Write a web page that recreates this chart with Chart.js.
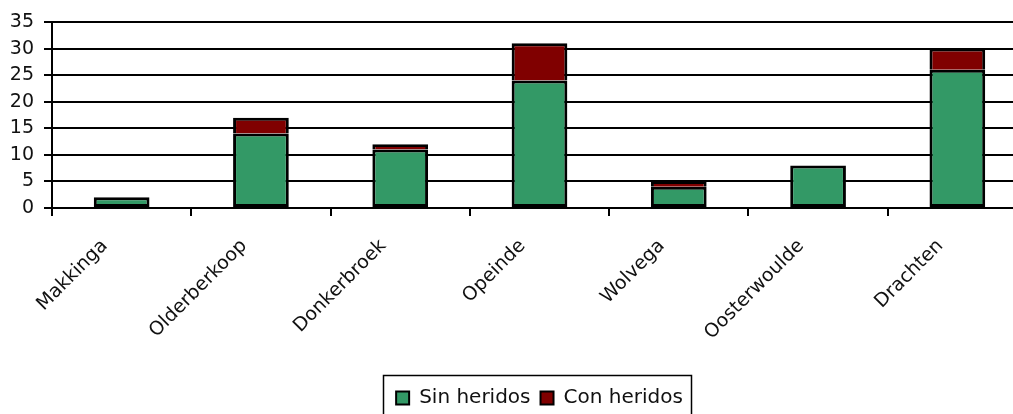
<!DOCTYPE html>
<html>
<head>
<meta charset="utf-8">
<script src="https://cdn.jsdelivr.net/npm/chart.js@4.4.1/dist/chart.umd.min.js"></script>
<style>
  html, body { margin: 0; padding: 0; background: #fff; overflow: hidden; }
  #wrap { width: 1027px; height: 414px; position: relative; }
</style>
</head>
<body>
<div id="wrap"><canvas id="chart"></canvas></div>
<script>
const places = ['Makkinga', 'Olderberkoop', 'Donkerbroek', 'Opeinde', 'Wolvega', 'Oosterwoulde', 'Drachten'];
const sinHeridos = [2, 14, 11, 24, 4, 8, 26];
const conHeridos = [null, 3, 1, 7, 1, null, 4];

const FONT = 'Tahoma, "DejaVu Sans", sans-serif';

// box around the legend, like the spreadsheet original
const legendBorder = {
  id: 'legendBorder',
  afterLayout(chart) {
    // nudge legend row down a bit
    if (chart.legend) {
      chart.legend.top += 4;
      chart.legend.bottom += 4;
    }
  },
  afterDraw(chart) {
    const ctx = chart.ctx;
    ctx.save();
    ctx.strokeStyle = '#000';
    ctx.lineWidth = 1.5;
    ctx.strokeRect(383.5, 375.5, 308, 40);
    ctx.restore();
  }
};

new Chart(document.getElementById('chart'), {
  type: 'bar',
  data: {
    labels: places,
    datasets: [
      {
        label: 'Sin heridos',
        data: sinHeridos,
        backgroundColor: '#339966',
        borderColor: '#000',
        borderWidth: 3,
        borderSkipped: false,
        categoryPercentage: 0.4,
        barPercentage: 1
      },
      {
        label: 'Con heridos',
        data: conHeridos,
        backgroundColor: '#800000',
        borderColor: '#000',
        borderWidth: 3,
        borderSkipped: 'bottom',
        categoryPercentage: 0.4,
        barPercentage: 1
      }
    ]
  },
  options: {
    responsive: true,
    maintainAspectRatio: false,
    animation: false,
    layout: { padding: { top: 22, right: 0, left: 0, bottom: 0 } },
    plugins: {
      tooltip: { enabled: false },
      legend: {
        position: 'bottom',
        fullSize: false,
        labels: {
          color: '#111',
          font: { family: FONT, size: 20 },
          boxWidth: 13,
          boxHeight: 13,
          padding: 10,
          generateLabels(chart) {
            return chart.data.datasets.map((ds, i) => ({
              text: ds.label,
              fillStyle: ds.backgroundColor,
              strokeStyle: '#000',
              lineWidth: 2,
              datasetIndex: i,
              fontColor: '#111'
            }));
          }
        }
      }
    },
    scales: {
      x: {
        stacked: true,
        grid: {
          display: true,
          drawOnChartArea: false,
          offset: true,
          color: '#000',
          lineWidth: 2,
          tickLength: 8
        },
        border: { color: '#000', width: 2 },
        ticks: {
          color: '#111',
          font: { family: FONT, size: 19 },
          minRotation: 45,
          maxRotation: 45,
          padding: 19,
          labelOffset: -17,
          autoSkip: false
        },
        afterFit(scale) { scale.height = 166; }
      },
      y: {
        stacked: true,
        min: 0,
        max: 35,
        grid: {
          color: '#000',
          lineWidth: 2,
          tickLength: 8
        },
        border: { color: '#000', width: 2 },
        ticks: {
          stepSize: 5,
          color: '#111',
          font: { family: FONT, size: 19 },
          padding: 10
        },
        afterFit(scale) { scale.width = 52; }
      }
    }
  },
  plugins: [legendBorder]
});
</script>
</body>
</html>
